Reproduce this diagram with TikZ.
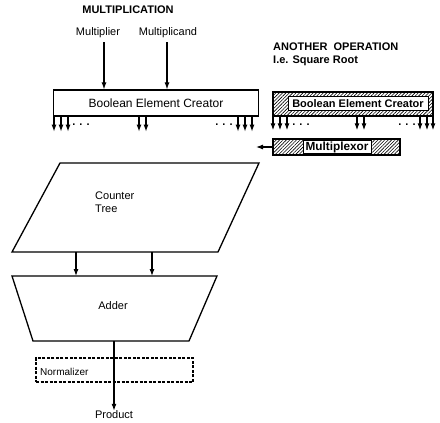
\documentclass[tikz,border=0pt]{standalone}
\usepackage{fontspec}
\setmainfont{Liberation Sans}
\usetikzlibrary{arrows.meta,patterns.meta}
\begin{document}
\begin{tikzpicture}[x=1pt,y=-1pt,
  every node/.style={font=\fontsize{11}{13}\selectfont, inner sep=0pt},
  bold/.style={font=\fontsize{11}{13}\selectfont\bfseries},
  arr/.style={-{Latex[length=7pt,width=5pt]}, line width=1.1pt},
  box/.style={draw, line width=1.2pt, rectangle},
  hatch/.style={draw, line width=1.2pt, pattern={Lines[angle=45,distance=2.4pt,line width=0.6pt]}},
  outline/.style={draw, line width=1.3pt, line join=miter}]
\useasboundingbox (0,0) rectangle (440,423);
% titles
\node[bold] (title) at (128,10) {MULTIPLICATION};
\node (mplier) at (98,33) {Multiplier};
\node (mcand) at (168,33) {Multiplicand};
\node[bold, anchor=west, align=left] (other) at (273,54) {ANOTHER\ \ OPERATION\\I.e. Square Root};
% left boolean element creator
\node[box, minimum width=205pt, minimum height=26pt, font=\fontsize{12}{14}\selectfont] (bec) at (156,103) {Boolean Element Creator};
\coordinate (m1) at (104,42);
\coordinate (m2) at (167,42);
\draw[arr] (m1) -- (m1 |- bec.north);
\draw[arr] (m2) -- (m2 |- bec.north);
\foreach \x in {54,61,68,139,146,238,245,252}
  \draw[arr] (\x,0 |- bec.south) -- ++(0,15);
\node[bold] (dl1) at (81,125) {. . .};
\node[bold] (dl2) at (224,125) {. . .};
% right hatched boolean element creator
\node[hatch, minimum width=160pt, minimum height=24pt] (bec2) at (353,104) {};
\node[draw, fill=white, line width=0.8pt, minimum width=140pt, minimum height=14pt, bold] (bec2t) at (358,103.5) {Boolean Element Creator};
\foreach \x in {273,280,287,357,364,420,427,433}
  \draw[arr] (\x,0 |- bec2.south) -- ++(0,14);
\node[bold] (dr1) at (301,125) {. . .};
\node[bold] (dr2) at (407,125) {. . .};
% multiplexor
\node[hatch, minimum width=127pt, minimum height=16pt] (mux) at (336.5,147) {};
\node[draw, line width=0.8pt, fill=white, minimum width=68pt, minimum height=13pt, font=\fontsize{11.8}{13}\selectfont\bfseries] (muxt) at (337,147) {Multiplexor};
\coordinate (muxout) at (256,147);
\draw[arr] (mux.west) -- (muxout);
% counter tree
\coordinate (ct1) at (60,163);
\coordinate (ct2) at (259,163);
\coordinate (ct3) at (218,252);
\coordinate (ct4) at (12,252);
\draw[outline] (ct1) -- (ct2) -- (ct3) -- (ct4) -- cycle;
\node[anchor=west, align=left] (cttext) at (95,202) {Counter\\Tree};
% adder
\coordinate (ad1) at (12,276);
\coordinate (ad2) at (217,276);
\coordinate (ad3) at (189,341);
\coordinate (ad4) at (33,341);
\draw[outline] (ad1) -- (ad2) -- (ad3) -- (ad4) -- cycle;
\node (addtext) at (113,306) {Adder};
\coordinate (a1) at (76,252);
\coordinate (a2) at (152,252);
\draw[arr] (a1) -- (a1 |- ad1);
\draw[arr] (a2) -- (a2 |- ad1);
% normalizer
\node[draw, dash pattern=on 3pt off 1.5pt, line width=1.1pt, minimum width=157pt, minimum height=24pt] (norm) at (114.5,370) {};
\node[anchor=west, font=\fontsize{10}{12}\selectfont] (normtext) at (40,372) {Normalizer};
% product
\node (prod) at (114,415) {Product};
\coordinate (adout) at (114,341);
\draw[arr] (adout) -- (prod.north);
\end{tikzpicture}
\end{document}
